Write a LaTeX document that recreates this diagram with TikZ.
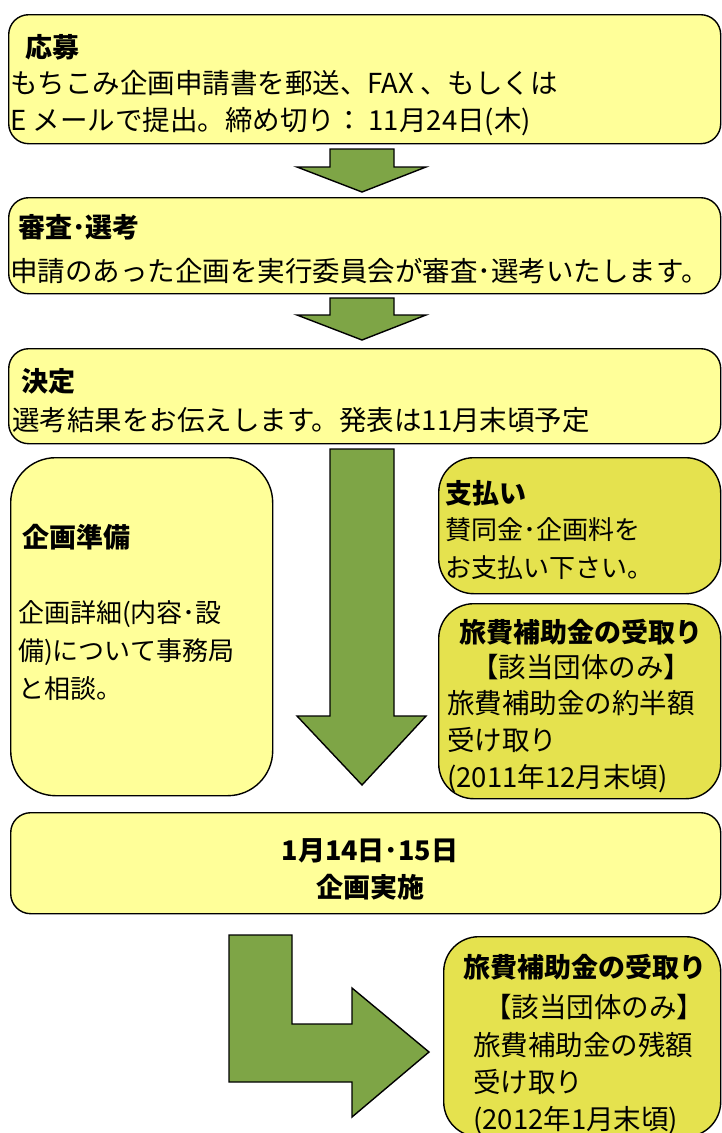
\documentclass[tikz,border=0pt]{standalone}
\usepackage{fontspec}
\usepackage{tikz}
\newfontfamily\jpfont{Noto Sans CJK JP}
\definecolor{palebox}{HTML}{FFFF99}
\definecolor{deepbox}{HTML}{E5E24E}
\definecolor{flowgreen}{HTML}{7EA546}
\newcommand{\bodyfont}{\jpfont\fontsize{27.5}{37}\selectfont}
\newcommand{\headfont}{\jpfont\bfseries\fontsize{27}{37}\selectfont}
\tikzset{
  stage/.style={draw, line width=1.4pt, fill=palebox, rounded corners=20pt, anchor=north west, inner sep=0pt},
  side/.style={stage, fill=deepbox, rounded corners=35pt},
  flowarrow/.style={draw, line width=1.4pt, fill=flowgreen, line join=miter},
  body/.style={anchor=west, inner sep=0pt, font=\bodyfont, align=left},
  head/.style={anchor=west, inner sep=0pt, font=\headfont},
  mid/.style={anchor=center, inner sep=0pt, font=\bodyfont, align=center},
}

\begin{document}
\begin{tikzpicture}[x=1pt, y=-1pt]
        \useasboundingbox (0,0) rectangle (722,1133);
        % stages
        \node (oubo) [stage, minimum width=712pt, minimum height=129pt] at (8,14) {};
        \node (shinsa) [stage, minimum width=712pt, minimum height=96pt] at (8,197) {};
        \node (kettei) [stage, minimum width=712pt, minimum height=95pt] at (8,348) {};
        \node (junbi) [stage, rounded corners=45pt, minimum width=262pt, minimum height=338pt] at (10,457) {};
        \node (shiharai) [side, minimum width=282pt, minimum height=136pt] at (438,457) {};
        \node (ryohiA) [side, minimum width=282pt, minimum height=195pt] at (438,603) {};
        \node (jisshi) [stage, minimum width=710pt, minimum height=101pt] at (10,812) {};
        \node (ryohiB) [side, minimum width=277pt, minimum height=200pt] at (443,936) {};
        % arrows
        \draw[flowarrow] (330,149) -- (394,149) -- (394,167) -- (426,167) -- (362,192) -- (297,167) -- (330,167) -- cycle;
        \draw[flowarrow] (330,298) -- (394,298) -- (394,315) -- (426,315) -- (362,340) -- (297,315) -- (330,315) -- cycle;
        \draw[flowarrow] (330,449) -- (394,449) -- (394,716) -- (426,716) -- (362,785) -- (297,716) -- (330,716) -- cycle;
        \draw[flowarrow] (229,935) -- (292,935) -- (292,1024) -- (352,1024) -- (352,988) -- (429,1052) -- (352,1117) -- (352,1082) -- (229,1082) -- cycle;
        % texts
        \node (ouboHead) [head] at (25,47) {応募};
        \node (ouboText) [body] at (10,103.5) {もちこみ企画申請書を郵送、FAX 、もしくは\\E メールで提出。締め切り： 11月24日(木)};
        \node (shinsaHead) [head] at (18,227) {審査･選考};
        \node (shinsaText) [body] at (10,271) {申請のあった企画を実行委員会が審査･選考いたします。};
        \node (ketteiHead) [head] at (21,381) {決定};
        \node (ketteiText) [body] at (12,420) {選考結果をお伝えします。発表は11月末頃予定};
        \node (junbiHead) [head] at (22,537) {企画準備};
        \node (junbiText) [body, font=\jpfont\fontsize{26}{38}\selectfont] at (18,651) {企画詳細(内容･設\\備)について事務局\\と相談。};
        \node (shiharaiHead) [head] at (445,493) {支払い};
        \node (shiharaiText) [body, font=\jpfont\fontsize{26}{38}\selectfont] at (445,549) {賛同金･企画料を\\お支払い下さい。};
        \node (ryohiAHead) [mid, font=\headfont] at (581,632) {旅費補助金の受取り};
        \node (ryohiANote) [mid] at (581,667) {【該当団体のみ】};
        \node (ryohiAText) [body] at (447,742) {旅費補助金の約半額\\受け取り\\(2011年12月末頃)};
        \node (jisshiDate) [mid, font=\headfont] at (370,869) {1月14日･15日\\企画実施};
        \node (ryohiBHead) [mid, font=\headfont] at (585,967) {旅費補助金の受取り};
        \node (ryohiBNote) [mid] at (594,1007) {【該当団体のみ】};
        \node (ryohiBText) [body] at (473,1083) {旅費補助金の残額\\受け取り\\(2012年1月末頃)};
\end{tikzpicture}
\end{document}
